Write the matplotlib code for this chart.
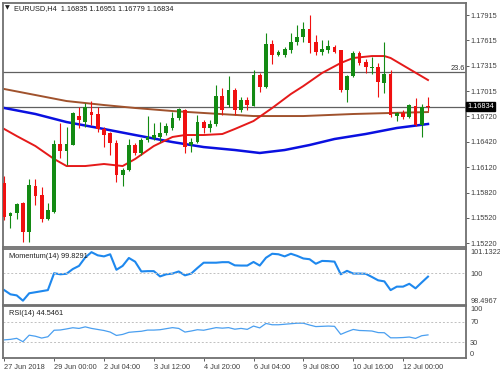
import numpy as np
import matplotlib.pyplot as plt
from matplotlib.transforms import blended_transform_factory

plt.rcParams['font.family'] = ['Liberation Sans', 'DejaVu Sans']

# velas H4 EURUSD (open, high, low, close)
opens = [1.15933, 1.15543, 1.15578, 1.15696, 1.15354, 1.15897, 1.15791, 1.15507, 1.15590, 1.16393,
         1.16310, 1.16381, 1.16723, 1.16652, 1.16770, 1.16747, 1.16570, 1.16523, 1.16404, 1.16027,
         1.16086, 1.16381, 1.16286, 1.16440, 1.16464, 1.16476, 1.16523, 1.16582, 1.16700, 1.16794,
         1.16381, 1.16416, 1.16652, 1.16582, 1.16629, 1.16959, 1.16853, 1.17030, 1.16794, 1.16912,
         1.16841, 1.17207, 1.17065, 1.17573, 1.17443, 1.17443, 1.17502, 1.17596, 1.17655, 1.17750,
         1.17596, 1.17478, 1.17502, 1.17537, 1.17502, 1.17030, 1.17195, 1.17466, 1.17360, 1.17290,
         1.17301, 1.17113, 1.17219, 1.16723, 1.16759, 1.16711, 1.16841, 1.16617, 1.16835]
highs = [1.16015, 1.15590, 1.15696, 1.15708, 1.15980, 1.15980, 1.15885, 1.15696, 1.16440, 1.16641,
         1.16593, 1.16770, 1.16830, 1.16877, 1.16900, 1.16830, 1.16593, 1.16534, 1.16440, 1.16110,
         1.16452, 1.16404, 1.16464, 1.16723, 1.16641, 1.16652, 1.16641, 1.16770, 1.16818, 1.16806,
         1.16464, 1.16735, 1.16676, 1.16676, 1.17089, 1.17054, 1.17195, 1.17054, 1.16947, 1.16947,
         1.17266, 1.17231, 1.17703, 1.17620, 1.17502, 1.17537, 1.17703, 1.17797, 1.17832, 1.17915,
         1.17679, 1.17620, 1.17620, 1.17561, 1.17502, 1.17207, 1.17490, 1.17490, 1.17396, 1.17419,
         1.17349, 1.17596, 1.17266, 1.16770, 1.16794, 1.16865, 1.16936, 1.16865, 1.16951]
lows = [1.15496, 1.15401, 1.15507, 1.15236, 1.15236, 1.15673, 1.15472, 1.15496, 1.15578, 1.16228,
        1.16145, 1.16381, 1.16582, 1.16593, 1.16617, 1.16534, 1.16357, 1.16263, 1.15944, 1.15897,
        1.16074, 1.16263, 1.16263, 1.16416, 1.16440, 1.16416, 1.16499, 1.16558, 1.16676, 1.16286,
        1.16298, 1.16404, 1.16523, 1.16534, 1.16605, 1.16735, 1.16830, 1.16735, 1.16770, 1.16794,
        1.16841, 1.17006, 1.17054, 1.17337, 1.17431, 1.17419, 1.17466, 1.17561, 1.17596, 1.17466,
        1.17443, 1.17443, 1.17466, 1.17466, 1.17006, 1.16888, 1.17183, 1.17325, 1.17231, 1.17219,
        1.16947, 1.16995, 1.16711, 1.16664, 1.16688, 1.16700, 1.16605, 1.16476, 1.16779]
closes = [1.15531, 1.15578, 1.15684, 1.15354, 1.15909, 1.15779, 1.15507, 1.15614, 1.16393, 1.16310,
          1.16393, 1.16759, 1.16676, 1.16830, 1.16735, 1.16570, 1.16499, 1.16404, 1.16027, 1.16086,
          1.16381, 1.16286, 1.16440, 1.16476, 1.16499, 1.16523, 1.16605, 1.16700, 1.16806, 1.16357,
          1.16416, 1.16652, 1.16582, 1.16629, 1.16959, 1.16794, 1.17030, 1.16794, 1.16912, 1.16853,
          1.17207, 1.17065, 1.17573, 1.17443, 1.17478, 1.17514, 1.17596, 1.17655, 1.17750, 1.17585,
          1.17478, 1.17514, 1.17549, 1.17478, 1.17030, 1.17195, 1.17466, 1.17349, 1.17301, 1.17301,
          1.17124, 1.17219, 1.16735, 1.16759, 1.16711, 1.16853, 1.16617, 1.16830, 1.16834]

# medias moviles (indice de vela, precio)
sma_rojo_idx = [0, 2, 5, 8, 10, 13, 16, 19, 21, 24, 27, 29, 32, 35, 37, 40, 43, 46, 48, 51,
                54, 56, 59, 61, 62, 65, 68]
sma_rojo = [1.16570, 1.16487, 1.16369, 1.16216, 1.16133, 1.16133, 1.16157, 1.16133, 1.16216,
            1.16369, 1.16476, 1.16499, 1.16499, 1.16511, 1.16570, 1.16664, 1.16818, 1.16983,
            1.17077, 1.17231, 1.17349, 1.17408, 1.17431, 1.17431, 1.17408, 1.17278, 1.17148]
sma_azul_idx = [0, 5, 10, 16, 21, 27, 32, 37, 41, 45, 49, 53, 58, 63, 68]
sma_azul = [1.16818, 1.16747, 1.16652, 1.16570, 1.16499, 1.16416, 1.16357, 1.16322, 1.16287,
            1.16322, 1.16381, 1.16452, 1.16511, 1.16582, 1.16629]
sma_marron_idx = [0, 5, 10, 16, 21, 27, 32, 40, 48, 56, 62, 68]
sma_marron = [1.17042, 1.16971, 1.16900, 1.16853, 1.16818, 1.16782, 1.16759, 1.16723, 1.16723,
              1.16747, 1.16759, 1.16770]

momentum = [99.193, 98.994, 98.944, 98.695, 99.044, 99.093, 99.143, 99.193, 99.989, 99.939,
            99.964, 100.187, 100.336, 100.734, 100.983, 100.834, 100.784, 100.883, 100.152, 100.336,
            100.709, 100.535, 100.073, 100.088, 100.088, 99.839, 99.939, 99.973, 100.073, 99.889,
            99.973, 100.237, 100.486, 100.486, 100.486, 100.511, 100.511, 100.361, 100.351, 100.351,
            100.521, 100.351, 100.719, 100.908, 100.883, 100.784, 100.908, 100.809, 100.685, 100.650,
            100.436, 100.570, 100.560, 100.535, 99.939, 100.103, 99.973, 99.973, 99.964, 99.814,
            99.655, 99.605, 99.193, 99.357, 99.357, 99.491, 99.277, 99.556, 99.829]
rsi = [35, 36, 38, 31.5, 44, 42, 38.5, 41, 53.5, 54,
       56, 58.3, 57, 60, 57, 55, 53, 50, 43.5, 45.5,
       49.5, 50.6, 51.5, 53.8, 53.8, 54.5, 56.5, 58.5, 57, 50,
       52, 54.5, 53.5, 56, 58.5, 57.5, 58.5, 55.5, 57, 55.2,
       61.5, 58, 66.5, 64, 64, 65, 66, 67, 67, 63.5,
       60.5, 61, 61.5, 61, 45.6, 50.6, 55, 53, 52.6, 52,
       49, 48.7, 39, 39, 39.5, 40.5, 37.8, 43, 44.5461]

precios_eje = [1.17915, 1.17615, 1.17315, 1.17015, 1.16720, 1.16420, 1.16120, 1.15820, 1.15520, 1.15220]
fechas_idx = [0, 8, 16, 24, 32, 40, 48, 56, 64]
fechas = ['27 Jun 2018', '29 Jun 00:00', '2 Jul 04:00', '3 Jul 12:00', '4 Jul 20:00',
          '6 Jul 04:00', '9 Jul 08:00', '10 Jul 16:00', '12 Jul 00:00']
fibo_236 = 1.17242
precio_actual = 1.16834

gris = '#707070'
fs = 5.3


def estilo(a):
    for s in a.spines.values():
        s.set_color(gris)
        s.set_linewidth(1.3)
    a.yaxis.tick_right()
    a.tick_params(axis='y', direction='out', length=2.5, width=0.6, colors='#404040',
                  labelsize=fs, pad=1)
    a.set_xlim(-0.2, 74.1)


fig = plt.figure(figsize=(5, 3.75), dpi=100)
ax = fig.add_axes([0.006, 0.341, 0.926, 0.651])
axm = fig.add_axes([0.006, 0.187, 0.926, 0.149])
axr = fig.add_axes([0.006, 0.045, 0.926, 0.139])

# velas
x = np.arange(len(opens))
o = np.array(opens)
c = np.array(closes)
colores = np.where(c >= o, '#138a13', '#f01010')
ax.vlines(x, lows, highs, colors=colores, linewidth=0.8, zorder=3)
alto = np.maximum(np.abs(c - o), 0.00004)
ax.bar(x, alto, bottom=np.minimum(o, c), width=0.6, color=colores, zorder=4)

ax.plot(sma_marron_idx, sma_marron, color='#a0522d', linewidth=1.4, zorder=2)
ax.plot(sma_azul_idx, sma_azul, color='#0a10e0', linewidth=1.8, zorder=2)
ax.plot(sma_rojo_idx, sma_rojo, color='#e51a1a', linewidth=1.4, zorder=2)

ax.axhline(fibo_236, color='#606060', linewidth=0.9, zorder=1)
ax.axhline(precio_actual, color='#606060', linewidth=0.9, zorder=1)
ax.text(73.9, fibo_236 + 0.00003, '23.6', ha='right', va='bottom', fontsize=fs, color='#303030')

estilo(ax)
ax.set_ylim(1.15176, 1.18057)
ax.set_yticks(precios_eje)
ax.set_yticklabels(['%.5f' % p for p in precios_eje])
ax.set_xticks([])
tr = blended_transform_factory(ax.transAxes, ax.transData)
ax.text(1.002, precio_actual, '%.5f' % precio_actual, transform=tr, ha='left', va='center',
        fontsize=fs, color='white', clip_on=False,
        bbox=dict(boxstyle='square,pad=0.15', fc='black', ec='black'))

fig.text(0.01, 0.978, '\u25bc', fontsize=4.5, color='#202020', va='center',
         family=['DejaVu Sans'])
fig.text(0.027, 0.978, 'EURUSD,H4  1.16835 1.16951 1.16779 1.16834', fontsize=fs,
         color='#202020', va='center')

# Momentum
axm.plot(x, momentum, color='#1e88ee', linewidth=1.5)
axm.axhline(100, color='#c0c0c0', linewidth=0.7, linestyle=(0, (2, 2)))
estilo(axm)
axm.set_ylim(98.4967, 101.1322)
axm.set_yticks([98.4967, 100, 101.1322])
axm.set_yticklabels(['98.4967', '100', '101.1322'])
lb = axm.get_yticklabels()
lb[0].set_va('bottom')
lb[2].set_va('top')
axm.tick_params(axis='y', length=0, pad=3)
axm.set_xticks([])
axm.text(0.012, 0.93, 'Momentum(14) 99.8291', transform=axm.transAxes, fontsize=fs,
         va='top', color='#202020')

# RSI
axr.plot(x, rsi, color='#4a9ff0', linewidth=0.9)
axr.axhline(70, color='#c0c0c0', linewidth=0.7, linestyle=(0, (2, 2)))
axr.axhline(30, color='#c0c0c0', linewidth=0.7, linestyle=(0, (2, 2)))
estilo(axr)
axr.set_ylim(0, 100)
axr.set_yticks([0, 30, 70, 100])
lb = axr.get_yticklabels()
lb[0].set_va('bottom')
lb[3].set_va('top')
axr.tick_params(axis='y', length=0, pad=3)
axr.set_xticks(fechas_idx)
axr.set_xticklabels(fechas, ha='left')
axr.tick_params(axis='x', direction='out', length=2.5, width=0.6, colors='#404040',
                labelsize=fs, pad=2)
axr.text(0.012, 0.93, 'RSI(14) 44.5461', transform=axr.transAxes, fontsize=fs,
         va='top', color='#202020')

fig.savefig('out.png', dpi=100, facecolor='white')
